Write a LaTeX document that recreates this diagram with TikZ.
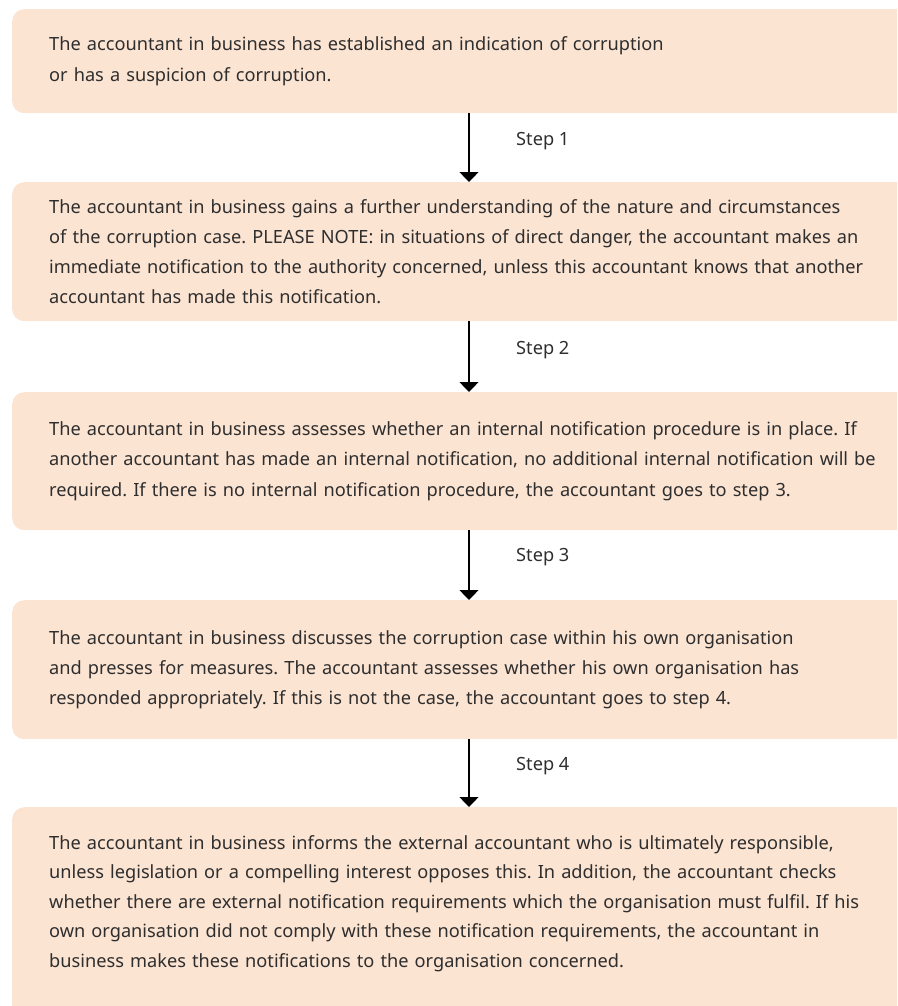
\documentclass[tikz,border=0pt]{standalone}
\usepackage{fontspec}
\setmainfont{Noto Sans}
\usetikzlibrary{arrows.meta,positioning}
\definecolor{boxfill}{HTML}{FCE4D3}
\definecolor{txt}{HTML}{2E2E2E}
\tikzset{
  x=1pt,y=1pt,
  boxbg/.style={draw=none,fill=boxfill,rounded corners=12pt,anchor=north west,
    minimum width=930pt,inner sep=0pt},
  box/.style={boxbg,text width=856pt,inner xsep=37pt,inner ysep=0pt,align=left,
    text=txt,font=\fontsize{18.2}{30.2}\selectfont\frenchspacing},
  boxtext/.style={anchor=north west,text width=856pt,inner sep=0pt,align=left,
    text=txt,font=\fontsize{18.2}{29.6}\selectfont\frenchspacing},
  conn/.style={line width=1.3pt,-{Triangle[width=19pt,length=10pt]}},
  steplbl/.style={anchor=west,inner sep=0pt,text=txt,font=\fontsize{18.2}{20}\selectfont}
}
\begin{document}
\begin{tikzpicture}
\useasboundingbox (0,0) rectangle (897,-1006);
\clip (0,0) rectangle (897,-1006);
\node[box,minimum height=104pt] (b1) at (12,-9) {The accountant in business has established an indication of corruption\\or has a suspicion of corruption.};
\node[box,minimum height=139pt] (b2) at (12,-182) {The accountant in business gains a further understanding of the nature and circumstances\\of the corruption case. PLEASE NOTE: in situations of direct danger, the accountant makes an\\immediate notification to the authority concerned, unless this accountant knows that another\\accountant has made this notification.};
\node[box,minimum height=138pt] (b3) at (12,-392) {The accountant in business assesses whether an internal notification procedure is in place. If\\another accountant has made an internal notification, no additional internal notification will be\\required. If there is no internal notification procedure, the accountant goes to step 3.};
\node[box,minimum height=139pt] (b4) at (12,-600) {The accountant in business discusses the corruption case within his own organisation\\and presses for measures. The accountant assesses whether his own organisation has\\responded appropriately. If this is not the case, the accountant goes to step 4.};
\node[boxbg,minimum height=220pt] (b5) at (12,-807) {};
\node[boxtext] (t5) at (49,-835) {The accountant in business informs the external accountant who is ultimately responsible,\\unless legislation or a compelling interest opposes this. In addition, the accountant checks\\whether there are external notification requirements which the organisation must fulfil. If his\\own organisation did not comply with these notification requirements, the accountant in\\business makes these notifications to the organisation concerned.};
\coordinate (ax) at (469,0);
\draw[conn] (b1.south -| ax) -- (b2.north -| ax);
\draw[conn] (b2.south -| ax) -- (b3.north -| ax);
\draw[conn] (b3.south -| ax) -- (b4.north -| ax);
\draw[conn] (b4.south -| ax) -- (b5.north -| ax);
\node[steplbl] (s1) at (516,-141) {Step 1};
\node[steplbl] (s2) at (516,-350) {Step 2};
\node[steplbl] (s3) at (516,-557) {Step 3};
\node[steplbl] (s4) at (516,-766) {Step 4};
\end{tikzpicture}
\end{document}
